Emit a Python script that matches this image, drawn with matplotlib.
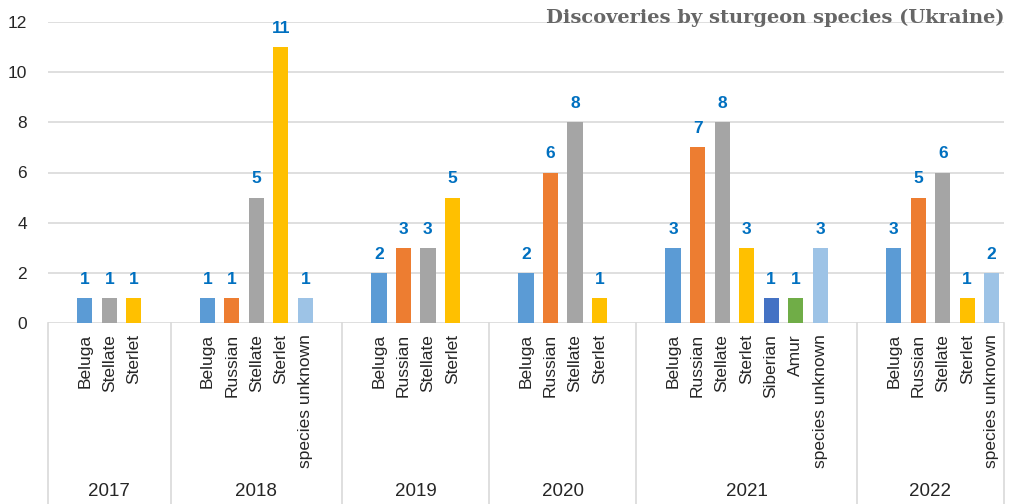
import matplotlib.pyplot as plt
from matplotlib.transforms import blended_transform_factory

years = ['2017', '2018', '2019', '2020', '2021', '2022']
species = [
    ['Beluga', 'Stellate', 'Sterlet'],
    ['Beluga', 'Russian', 'Stellate', 'Sterlet', 'species unknown'],
    ['Beluga', 'Russian', 'Stellate', 'Sterlet'],
    ['Beluga', 'Russian', 'Stellate', 'Sterlet'],
    ['Beluga', 'Russian', 'Stellate', 'Sterlet', 'Siberian', 'Amur', 'species unknown'],
    ['Beluga', 'Russian', 'Stellate', 'Sterlet', 'species unknown'],
]
counts = [
    [1, 1, 1],
    [1, 1, 5, 11, 1],
    [2, 3, 3, 5],
    [2, 6, 8, 1],
    [3, 7, 8, 3, 1, 1, 3],
    [3, 5, 6, 1, 2],
]

colors = {
    'Beluga': '#5B9BD5',
    'Russian': '#ED7D31',
    'Stellate': '#A5A5A5',
    'Sterlet': '#FFC000',
    'Siberian': '#4472C4',
    'Amur': '#70AD47',
    'species unknown': '#9DC3E6',
}

plt.rcParams['font.family'] = ['Liberation Sans', 'DejaVu Sans']

fig = plt.figure(figsize=(10.11, 5.04), dpi=100)
ax = fig.add_axes([48 / 1011, (504 - 323) / 504, (1004 - 48) / 1011, 301 / 504])

# slot layout: one empty slot before each year group and after each except the last
xs, vals, names, bounds, centers = [], [], [], [-0.5], []
pos = 0
for i, (sp, ct) in enumerate(zip(species, counts)):
    start = pos
    pos += 1
    for s, c in zip(sp, ct):
        xs.append(pos)
        vals.append(c)
        names.append(s)
        pos += 1
    if i < len(years) - 1:
        pos += 1
    bounds.append(pos - 0.5)
    centers.append((start + pos - 1) / 2)

ax.bar(xs, vals, width=0.62, color=[colors[n] for n in names], zorder=3)
for x, v in zip(xs, vals):
    ax.annotate(str(v), (x, v), xytext=(0, 8), textcoords='offset points',
                ha='center', va='bottom', fontsize=12.5, fontweight='bold',
                color='#0070C0')

ax.set_xlim(-0.5, pos - 0.5)
ax.set_ylim(0, 12)
ax.set_yticks(range(0, 13, 2))
ax.yaxis.grid(True, color='#D9D9D9', linewidth=1.2, zorder=0)
for sp_ in ax.spines.values():
    sp_.set_visible(False)
ax.tick_params(axis='y', length=0, pad=15, labelsize=12.5, labelcolor='#262626')

ax.set_xticks(xs)
ax.set_xticklabels(names, rotation=90, fontsize=12.5, color='#262626')
ax.tick_params(axis='x', length=0, pad=8)

trans = blended_transform_factory(ax.transData, ax.transAxes)
for b in bounds:
    ax.plot([b, b], [0, -0.62], transform=trans, color='#D9D9D9',
            linewidth=1.2, clip_on=False)
for c, y in zip(centers, years):
    ax.text(c, -0.561, y, transform=trans, ha='center', va='center',
            fontsize=13.5, color='#262626')

fig.text(1005 / 1011, 1 - 18 / 504, 'Discoveries by sturgeon species (Ukraine)',
         ha='right', va='center', fontsize=14, fontweight='bold',
         family=['DejaVu Serif'], color='#666666')

fig.savefig('out.png', dpi=100)
